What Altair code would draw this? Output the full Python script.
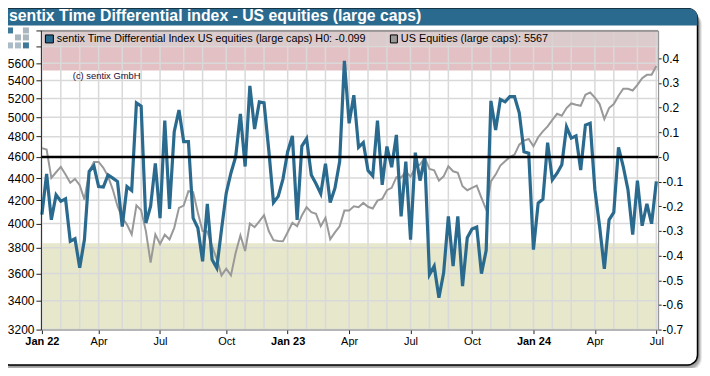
import altair as alt
import pandas as pd

TITLE = "sentix Time Differential index - US equities (large caps)"
LEGEND_A = "sentix Time Differential Index US equities (large caps) H0: -0.099"
LEGEND_B = "US Equities (large caps): 5567"
CREDIT = "(c) sentix GmbH"

sentiment = [
    -0.234, -0.069, -0.255, -0.154, -0.180, -0.170, -0.342, -0.332, -0.449, -0.335,
    -0.059, -0.036, -0.120, -0.122, -0.073, -0.086, -0.100, -0.282, -0.120, -0.136,
    0.219, 0.206, -0.268, -0.200, -0.026, -0.248, 0.147, -0.211, 0.102, 0.190,
    0.062, 0.062, -0.248, -0.288, -0.423, -0.190, -0.416, -0.450, -0.295, -0.147,
    -0.065, 0.001, 0.174, -0.039, 0.288, 0.113, 0.223, 0.219, 0.028, -0.185,
    -0.160, -0.090, 0.021, 0.085, -0.255, 0.044, 0.074, -0.073, -0.109, -0.149,
    -0.028, -0.185, -0.127, -0.019, 0.389, 0.136, 0.250, 0.039, 0.058, -0.055,
    -0.077, 0.147, -0.113, 0.042, -0.042, 0.089, -0.241, -0.019, -0.335, 0.017,
    -0.096, -0.003, -0.477, -0.443, -0.571, -0.470, -0.241, -0.443, -0.241, -0.524,
    -0.328, -0.292, -0.284, -0.473, -0.379, 0.227, 0.109, 0.233, 0.223, 0.244,
    0.244, 0.179, 0.021, 0.015, -0.376, -0.187, -0.171, 0.058, -0.093, -0.066,
    -0.032, 0.122, 0.076, 0.085, -0.053, 0.129, 0.136, -0.133, -0.282, -0.454,
    -0.255, -0.225, 0.039, -0.039, -0.133, -0.315, -0.096, -0.279, -0.190, -0.271,
    -0.099,
]
equities = [
    4686, 4671, 4401, 4454, 4505, 4432, 4356, 4392, 4334, 4205,
    4460, 4552, 4552, 4495, 4416, 4295, 4147, 4047, 3990, 3909,
    4155, 4112, 3936, 3684, 3909, 3831, 3906, 3868, 3963, 4133,
    4153, 4280, 4271, 4090, 3936, 3933, 3813, 3711, 3586, 3637,
    3586, 3761, 3900, 3774, 3998, 3968, 4018, 4070, 3936, 3862,
    3854, 3852, 3927, 4005, 3976, 4067, 4138, 4095, 4081, 3976,
    4047, 3868, 3925, 3976, 4109, 4109, 4147, 4138, 4176, 4142,
    4127, 4196, 4211, 4289, 4310, 4408, 4404, 4460, 4413, 4498,
    4526, 4592, 4486, 4473, 4376, 4416, 4510, 4463, 4448, 4325,
    4289, 4310, 4331, 4220, 4118, 4370, 4432, 4517, 4557, 4599,
    4622, 4720, 4760, 4776, 4703, 4794, 4853, 4905, 4973, 5036,
    5015, 5097, 5147, 5133, 5122, 5241, 5267, 5211, 5140, 4981,
    5097, 5140, 5230, 5308, 5308, 5289, 5352, 5428, 5466, 5466,
    5567,
]
week = list(range(len(sentiment)))

month_weeks = [0, 4, 8, 12, 17, 21, 25, 30, 34, 39, 43, 47, 52, 56, 60, 65, 69, 73,
               78, 82, 86, 91, 95, 99, 104, 108, 112, 117, 121, 126, 130]
label_weeks = [0, 12, 25, 39, 52, 65, 78, 91, 104, 117, 130]
label_text = ["Jan 22", "Apr", "Jul", "Oct", "Jan 23", "Apr", "Jul", "Oct", "Jan 24", "Apr", "Jul"]
price_ticks = [3200, 3400, 3600, 3800, 4000, 4200, 4400, 4600, 4800, 5000, 5200, 5400, 5600, 5800, 6000]
sent_ticks = [0.4, 0.3, 0.2, 0.1, 0, -0.1, -0.2, -0.3, -0.4, -0.5, -0.6, -0.7]
bands_lo = [0.35, -0.7]
bands_hi = [0.5125, -0.35]
band_colors = ["#e3c0c3", "#e6e7cb"]

BLUE = "#2a6a8e"
GREY = "#999999"
GRID = "#d9d9d9"
FONT = "Liberation Sans"

PAD_L, PAD_T, W, H = 33, 22, 619, 300
ONE = alt.Data(values=[{"k": 1}])


def px(v):
    return alt.value(v - 8 - PAD_L)


def py(v):
    return alt.value(v - 8 - PAD_T)


def box(x0, x1, y0, y1, **kw):
    return alt.Chart(ONE).mark_rect(**kw).encode(x=px(x0), x2=px(x1), y=py(y0), y2=py(y1))


def label(s, x, y, **kw):
    return alt.Chart(ONE).mark_text(align="left", font=FONT, **kw).encode(
        x=px(x), y=py(y), text=alt.value(s))


x_scale = alt.Scale(domain=[-0.21, 130.38], nice=False, zero=False)
p_scale = alt.Scale(type="log", domain=[3200, 6000], nice=False)
s_scale = alt.Scale(domain=[-0.7, 0.5125], nice=False, zero=False)

df = pd.DataFrame({"week": week, "sentiment": sentiment, "equities": equities})
bands = pd.DataFrame({"lo": bands_lo, "hi": bands_hi, "color": band_colors})
month_df = pd.DataFrame({"w": month_weeks})
price_df = pd.DataFrame({"p": price_ticks})

shadows = [
    box(0, 704, 12, 371, color="#000000", opacity=0.08, cornerRadius=12),
    box(0, 703, 12, 370, color="#000000", opacity=0.12, cornerRadius=12),
    box(0, 702, 12, 369, color="#000000", opacity=0.16, cornerRadius=11),
    box(0, 701, 12, 367, color="#000000", opacity=0.20, cornerRadius=11),
]
panel = box(0, 699.5, 8, 365.5, color="#ffffff", stroke="#000000", strokeWidth=1.5, cornerRadius=10)
bar = box(0, 699.5, 8, 25, color=BLUE, cornerRadiusTopRight=10)
title = label(TITLE, 9, 21, fontSize=15.85, fontWeight="bold", color="#ffffff", baseline="alphabetic")

logo = [
    box(7, 13, 27, 33, color=BLUE, opacity=0.9),
    box(23, 29, 27, 33, color="#a9b6bd"),
    box(15, 21, 34, 40, color="#a9b6bd"),
    box(23, 29, 34, 40, color="#a9b6bd"),
    box(7, 13, 42, 48, color="#a9bcc7"),
    box(15, 21, 42, 48, color="#a9bcc7"),
    box(23, 29, 42, 48, color=BLUE, opacity=0.9),
]

x_label_expr = "[" + ",".join(f"'{t}'" for t in label_text) + "][indexof([" + ",".join(map(str, label_weeks)) + "],datum.value)]"
x_axis = alt.Axis(
    values=label_weeks, labelExpr=x_label_expr, grid=False, zindex=1, title=None,
    domainColor="#888888", tickColor="#222222", tickSize=4, labelColor="#000000",
    labelFont=FONT, labelFontSize=11, labelPadding=2, labelOverlap=False, labelFlush=False,
    labelFontWeight={"condition": {"test": "datum.value % 52 == 0", "value": "bold"}, "value": "normal"},
)

band_layer = alt.Chart(bands).mark_rect().encode(
    x=alt.value(0), x2=alt.value(W),
    y=alt.Y("lo:Q", scale=s_scale, axis=None),
    y2="hi:Q",
    color=alt.Color("color:N", scale=None),
)
grid_v = alt.Chart(month_df).mark_rule(color=GRID, strokeWidth=1.5).encode(
    x=alt.X("w:Q", scale=x_scale, axis=x_axis))
grid_h = alt.Chart(price_df).mark_rule(color=GRID, strokeWidth=1.5).encode(
    y=alt.Y("p:Q", scale=p_scale, axis=None))

grey_line = alt.Chart(df).mark_line(color=GREY, strokeWidth=2).encode(
    x=alt.X("week:Q", scale=x_scale, axis=x_axis),
    y=alt.Y("equities:Q", scale=p_scale, title=None, axis=alt.Axis(
        orient="left", values=price_ticks, grid=False, zindex=1,
        labelExpr="datum.value > 5600 ? '' : '' + datum.value",
        domainColor="#222222", tickColor="#222222", tickSize=5, labelColor="#000000",
        labelFont=FONT, labelFontSize=12, labelPadding=2, labelOverlap=False, labelFlush=False,
    )),
)
blue_line = alt.Chart(df).mark_line(color=BLUE, strokeWidth=3.2, strokeJoin="miter").encode(
    x=alt.X("week:Q", scale=x_scale, axis=x_axis),
    y=alt.Y("sentiment:Q", scale=s_scale, title=None, axis=alt.Axis(
        orient="right", values=sent_ticks, grid=False, zindex=1,
        labelExpr="'' + datum.value",
        domainColor="#888888", tickColor="#222222", tickSize=3, labelColor="#000000",
        labelFont=FONT, labelFontSize=12, labelPadding=1, labelOverlap=False, labelFlush=False,
    )),
)
zero_line = alt.Chart(pd.DataFrame({"z": [0]})).mark_rule(color="#000000", strokeWidth=2.5).encode(
    y=alt.Y("z:Q", scale=s_scale, axis=None))

legend_bg = box(42, 660, 31, 45, color="#d8cfcf", opacity=0.75)
frame_top = box(41, 660, 30.5, 30.5, color="#888888", stroke="#888888", strokeWidth=1)
swatch_a = box(45.5, 53.5, 34.5, 42.5, color=BLUE, stroke="#000000", strokeWidth=1)
swatch_b = box(391.5, 398.5, 34.5, 42.5, color=GREY, stroke="#000000", strokeWidth=1)
text_a = label(LEGEND_A, 57, 38.5, fontSize=10.8, color="#000000", baseline="middle")
text_b = label(LEGEND_B, 402, 38.5, fontSize=10.9, color="#000000", baseline="middle")
credit = label(CREDIT, 73, 76, fontSize=9.4, color="#1a0a33", baseline="middle")

chart = alt.layer(
    *shadows, panel, bar, title, *logo,
    band_layer, grid_v, grid_h, grey_line, blue_line, zero_line,
    legend_bg, frame_top, swatch_a, swatch_b, text_a, text_b, credit,
).resolve_scale(y="independent").properties(
    width=W, height=H,
    autosize=alt.AutoSizeParams(type="none"),
    padding={"left": PAD_L, "top": PAD_T, "right": 44, "bottom": 38},
    background="#ffffff",
).configure_view(stroke=None)

chart.save("out.html", embed_options={"renderer": "svg", "actions": False})
